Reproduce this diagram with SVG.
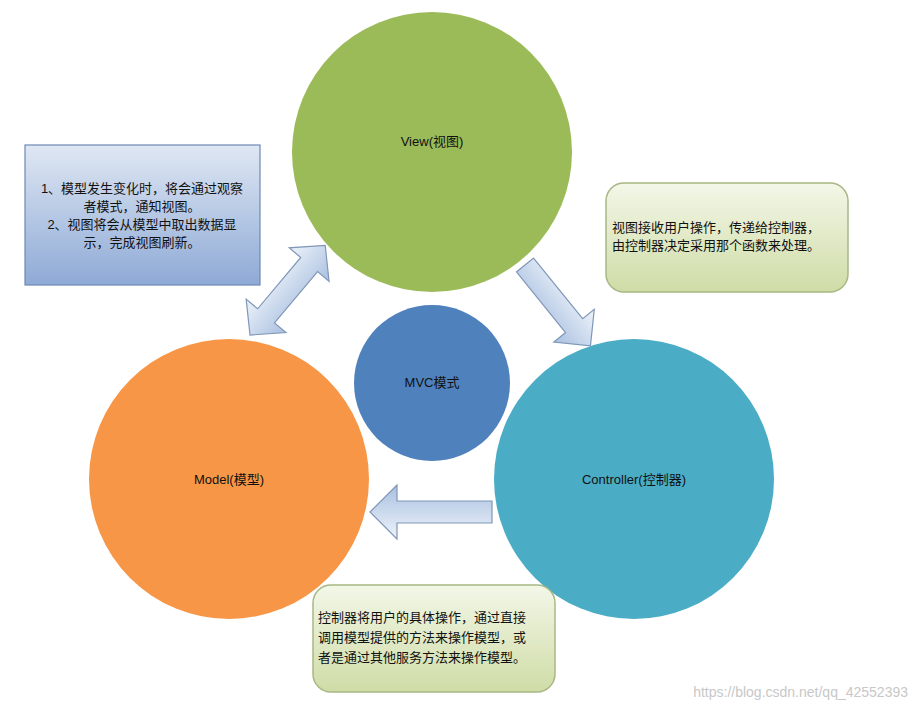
<svg xmlns="http://www.w3.org/2000/svg" width="916" height="709" viewBox="0 0 916 709">
<style>
text{font-family:"Liberation Sans","Noto Sans CJK SC",sans-serif;font-size:13px;fill:#111;text-anchor:middle}
.arr{fill:url(#ag);stroke:#7f97b8;stroke-width:1.2}
.note{fill:url(#gg);stroke:#a8b884;stroke-width:1.5}
</style>
<defs>
<linearGradient id="ag" x1="0" y1="0" x2="0" y2="1"><stop offset="0" stop-color="#eef3fa"/><stop offset="1" stop-color="#a9c0e0"/></linearGradient>
<linearGradient id="bg" x1="0" y1="0" x2="0" y2="1"><stop offset="0" stop-color="#dfe7f3"/><stop offset="1" stop-color="#8eaad6"/></linearGradient>
<linearGradient id="gg" x1="0" y1="0" x2="0" y2="1"><stop offset="0" stop-color="#f3f7e8"/><stop offset="1" stop-color="#cfdca6"/></linearGradient>
</defs>
<rect width="916" height="709" fill="#fff"/>
<g id="connectors">
<polygon class="arr" transform="translate(492,512) rotate(180)" points="0,-11 95,-11 95,-27 122,0 95,27 95,11 0,11"/>
<polygon class="arr" transform="translate(525,265) rotate(51)" points="0,-11 78,-11 78,-26 104,0 78,26 78,11 0,11"/>
<polygon class="arr" transform="translate(250,335) rotate(-50)" points="0,0 25,-26 25,-11 92,-11 92,-26 117,0 92,26 92,11 25,11 25,26"/>
</g>
<g id="view"><circle cx="432" cy="152" r="140" fill="#9bbb59"/><text x="432" y="146">View(视图)</text></g>
<g id="mvc"><circle cx="432" cy="383" r="78" fill="#4f81bd"/><text x="432" y="387">MVC模式</text></g>
<g id="model"><circle cx="229" cy="479" r="140" fill="#f79646"/><text x="229" y="484">Model(模型)</text></g>
<g id="controller"><circle cx="634" cy="479" r="140" fill="#4bacc6"/><text x="634" y="484">Controller(控制器)</text></g>
<g id="note-observer"><rect x="25" y="145" width="235" height="140" fill="url(#bg)" stroke="#6d89b4" stroke-width="1.2"/>
<text x="142" y="193">1、模型发生变化时，将会通过观察</text><text x="142" y="211">者模式，通知视图。</text>
<text x="142" y="229">2、视图将会从模型中取出数据显</text><text x="142" y="247">示，完成视图刷新。</text></g>
<g id="note-view"><rect class="note" x="606" y="183" width="242" height="109" rx="18"/>
<text x="612" y="232" style="text-anchor:start">视图接收用户操作，传递给控制器，</text><text x="612" y="250" style="text-anchor:start">由控制器决定采用那个函数来处理。</text></g>
<g id="note-controller"><rect class="note" x="313" y="585" width="242" height="107" rx="18"/>
<text x="318" y="622" style="text-anchor:start">控制器将用户的具体操作，通过直接</text><text x="318" y="642" style="text-anchor:start">调用模型提供的方法来操作模型，或</text><text x="318" y="662" style="text-anchor:start">者是通过其他服务方法来操作模型。</text></g>
<text x="908" y="697" style="text-anchor:end;fill:#c8c8c8;font-size:14px">https://blog.csdn.net/qq_42552393</text>
</svg>
